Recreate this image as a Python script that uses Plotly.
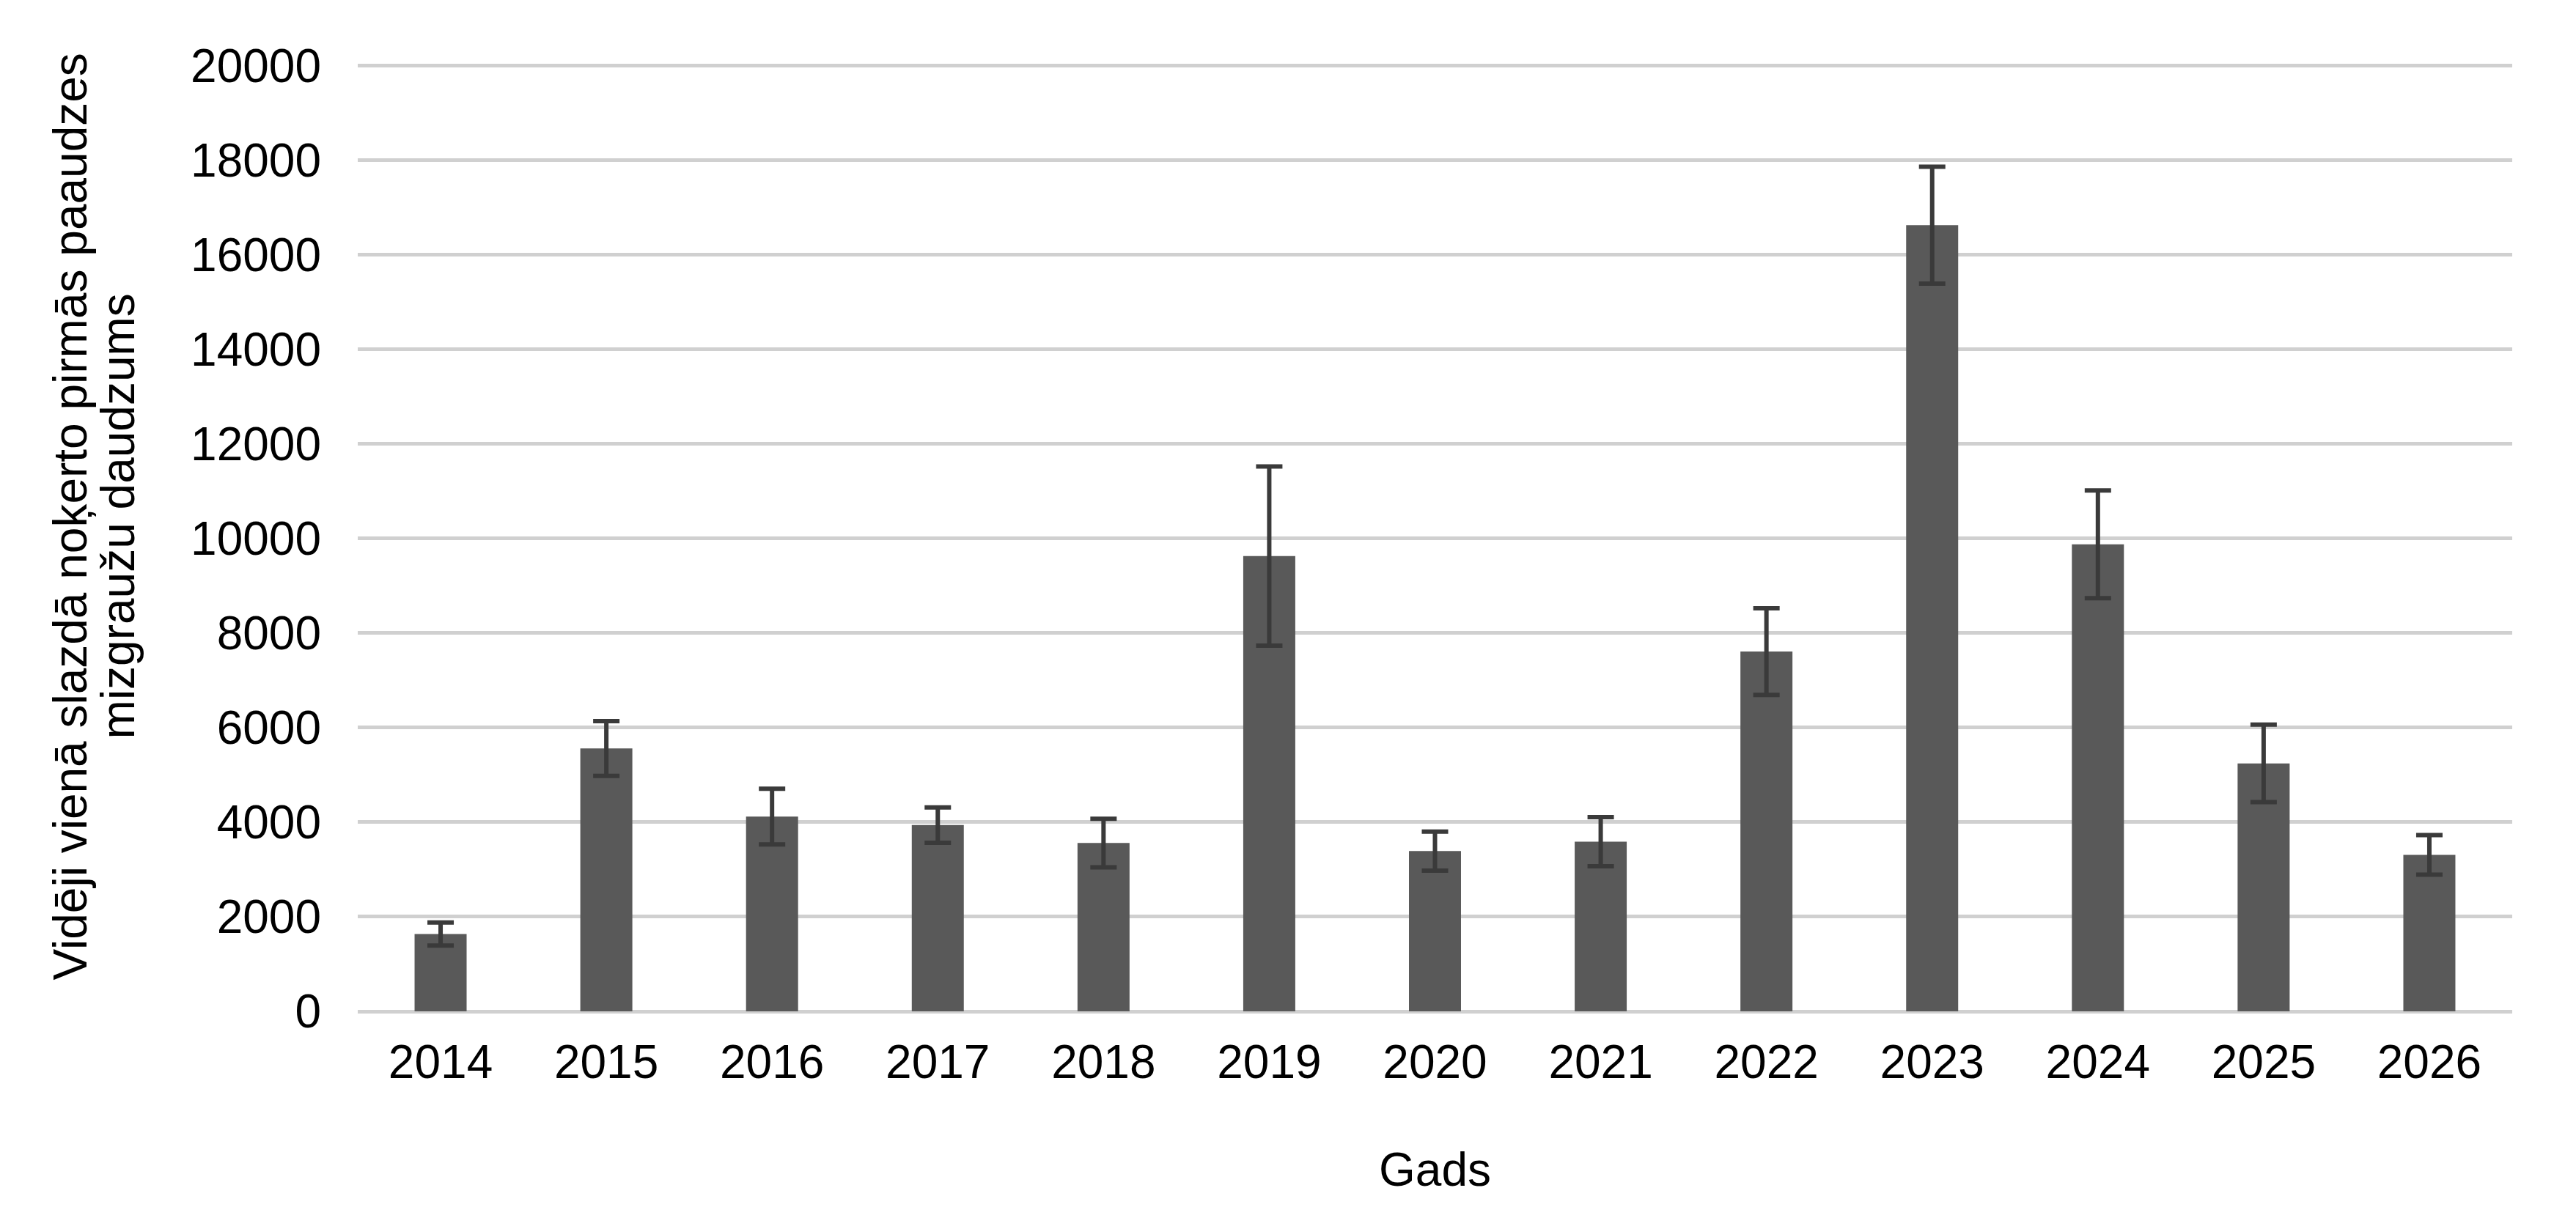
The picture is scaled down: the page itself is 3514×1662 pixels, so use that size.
import plotly.graph_objects as go

years = ["2014", "2015", "2016", "2017", "2018", "2019", "2020",
         "2021", "2022", "2023", "2024", "2025", "2026"]
mean_count = [1635, 5560, 4120, 3940, 3560, 9630, 3390,
              3590, 7610, 16630, 9880, 5245, 3310]
err_count = [245, 580, 590, 375, 515, 1895, 412,
             520, 915, 1235, 1140, 820, 420]

y_ticks = [0, 2000, 4000, 6000, 8000, 10000, 12000, 14000, 16000, 18000, 20000]
y_title = ["Vidēji vienā slazdā noķerto pirmās paaudzes", "mizgraužu daudzums"]

#Bar chart with symmetric error bars
fig = go.Figure()
fig.add_trace(go.Bar(
    x=years, y=mean_count,
    marker=dict(color="#595959", line=dict(width=0)),
    error_y=dict(type="data", array=err_count, visible=True,
                 color="#3a3a3a", thickness=6, width=18),
    showlegend=False))

font = dict(family="Liberation Sans, Arial, sans-serif", size=64, color="#000000")

fig.update_layout(
    width=3514, height=1662,
    margin=dict(l=480, r=95, t=78, b=290),
    paper_bgcolor="white", plot_bgcolor="white",
    font=font,
    bargap=0.686,
    xaxis=dict(title=dict(text="Gads", font=font, standoff=89),
               showgrid=False, showline=False, ticks="",
               tickfont=font, ticklabelstandoff=26),
    yaxis=dict(range=[0, 20060], tickvals=y_ticks, tickformat="d", ticks="",
               showgrid=True, gridcolor="#d0d0d0", gridwidth=5,
               zeroline=True, zerolinecolor="#d0d0d0", zerolinewidth=5,
               showline=False, tickfont=font, ticklabelstandoff=49),
)

#Two-line rotated y title, lines placed closer than plotly's default spacing
for line, xpos in zip(y_title, [-0.1334, -0.1113]):
    fig.add_annotation(text=line, textangle=-90, font=font, showarrow=False,
                       xref="paper", yref="paper", x=xpos, y=0.522,
                       xanchor="center", yanchor="middle")

fig.write_html("out.html")
